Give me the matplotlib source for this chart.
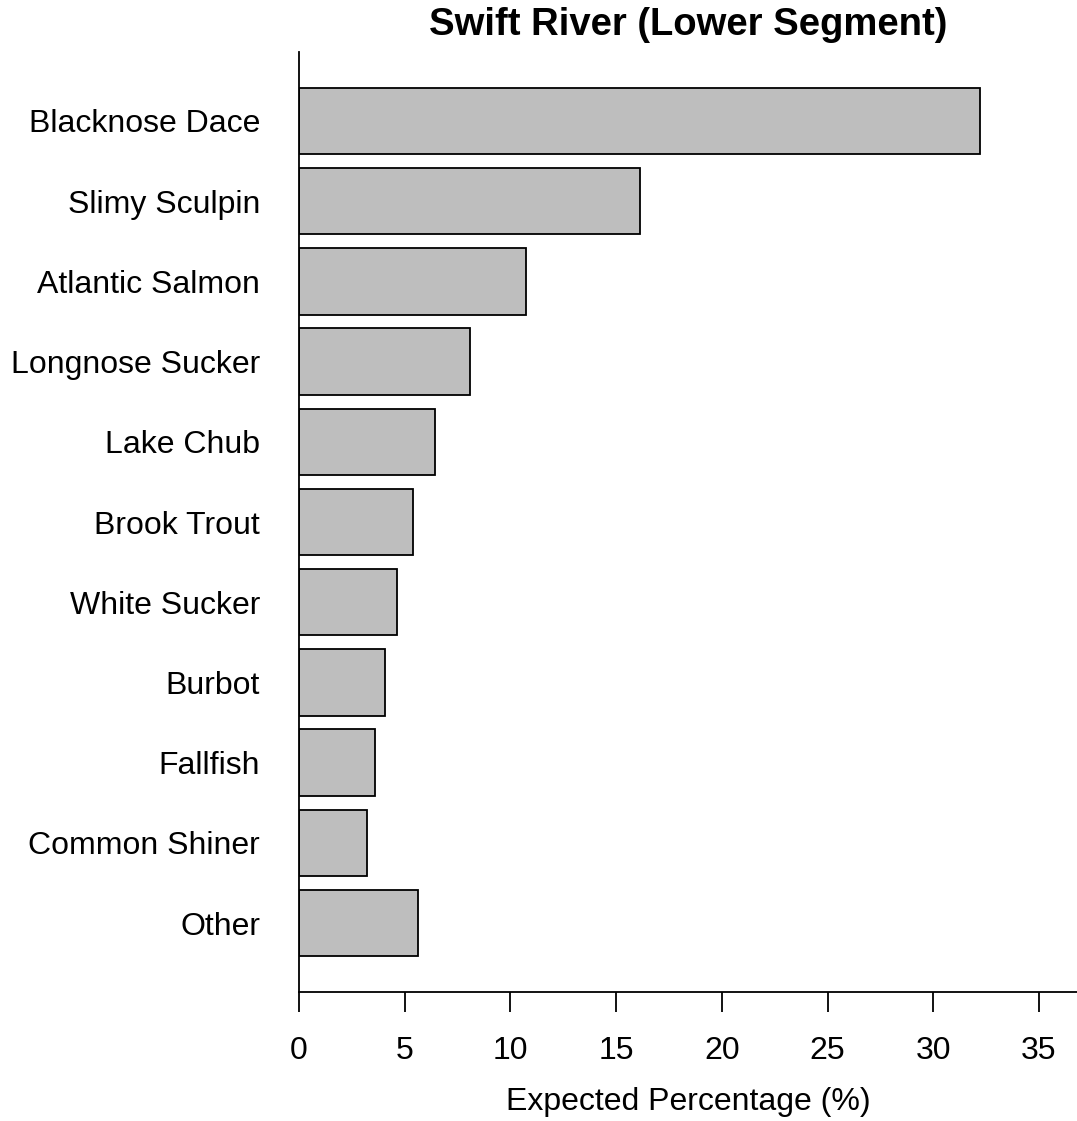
import matplotlib.pyplot as plt

# species and expected percentages
species = ["Blacknose Dace", "Slimy Sculpin", "Atlantic Salmon", "Longnose Sucker",
           "Lake Chub", "Brook Trout", "White Sucker", "Burbot", "Fallfish",
           "Common Shiner", "Other"]
pct = [32.2, 16.13, 10.74, 8.09, 6.43, 5.39, 4.64, 4.07, 3.6, 3.22, 5.63]
xticks = [0, 5, 10, 15, 20, 25, 30, 35]

plt.rcParams['font.family'] = ['Liberation Sans', 'DejaVu Sans']

fig = plt.figure(figsize=(10.77, 11.21), dpi=100)
# axes box in pixels: left 299, right 1077, top 52, bottom 992
ax = fig.add_axes([299/1077, 1 - 992/1121, (1077-299)/1077, (992-52)/1121])

pos = list(range(len(species)))
ax.barh(pos, pct, height=0.83, color="#bebebe", edgecolor="black", linewidth=1.3)

ax.set_ylim(len(species) - 1 + 0.86, -0.86)
ax.set_xlim(0, 36.8)
ax.set_yticks(pos)
ax.set_yticklabels(species, fontsize=23)
ax.set_xticks(xticks)
ax.set_xticklabels([str(t) for t in xticks], fontsize=23)

ax.tick_params(axis="y", length=0, pad=28)
ax.tick_params(axis="x", length=14.5, width=1.3, pad=17, direction="out")

for s in ["top", "right"]:
    ax.spines[s].set_visible(False)
for s in ["left", "bottom"]:
    ax.spines[s].set_linewidth(1.3)

ax.set_xlabel("Expected Percentage (%)", fontsize=23, labelpad=15)
fig.text((299 + 1077) / 2 / 1077, 1 - 25/1121, "Swift River (Lower Segment)",
         ha="center", va="center", fontsize=27.5, fontweight="bold")

fig.savefig("out.png", dpi=100)
